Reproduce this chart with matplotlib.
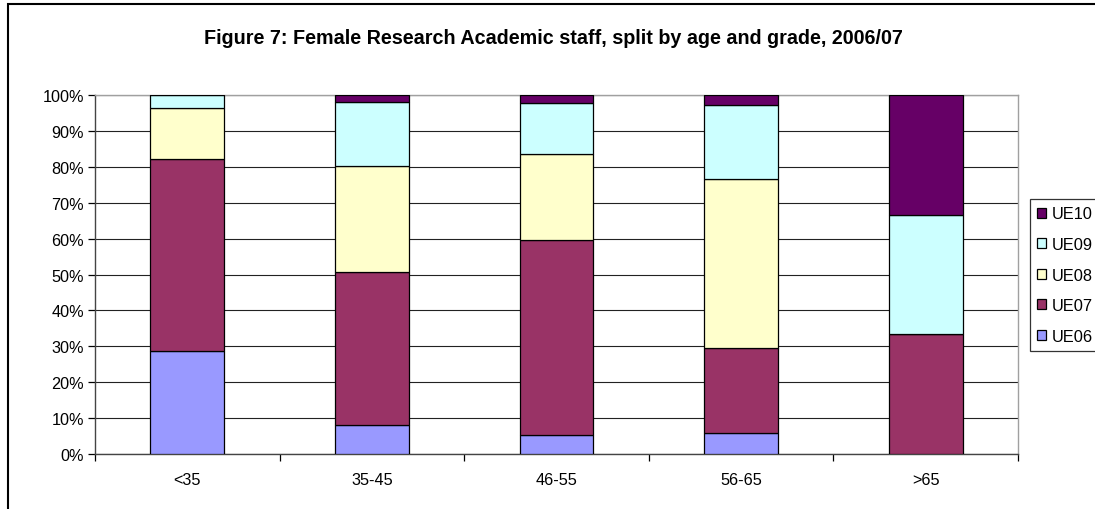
import numpy as np
import matplotlib
matplotlib.use('Agg')
import matplotlib.pyplot as plt
from matplotlib.patches import Rectangle
from matplotlib.ticker import FuncFormatter

plt.rcParams['font.family'] = ['Liberation Sans', 'DejaVu Sans']

ages = ['<35', '35-45', '46-55', '56-65', '>65']
grades = ['UE06', 'UE07', 'UE08', 'UE09', 'UE10']
colors = ['#9999FF', '#993366', '#FFFFCC', '#CCFFFF', '#660066']

# percentage of each age group in each grade
ue06 = [28.6, 8.2, 5.4, 5.9, 0.0]
ue07 = [53.6, 42.4, 54.3, 23.5, 33.3]
ue08 = [14.3, 29.6, 23.8, 47.1, 0.0]
ue09 = [3.5, 17.8, 14.3, 20.6, 33.4]
ue10 = [0.0, 2.0, 2.2, 2.9, 33.3]
series = [ue06, ue07, ue08, ue09, ue10]

fig = plt.figure(figsize=(10.95, 5.10), dpi=100)
ax = fig.add_axes([95/1095, 55/510, 923/1095, 359/510])

x = np.arange(len(ages))
bottom = np.zeros(len(ages))
handles = []
for name, vals, c in zip(grades, series, colors):
    vals = np.array(vals)
    b = ax.bar(x, vals, 0.4, bottom=bottom, color=c, edgecolor='black',
               linewidth=0.9, label=name, zorder=3)
    handles.append(b)
    bottom += vals

ax.set_xlim(-0.5, len(ages) - 0.5)
ax.set_ylim(0, 100)
ax.set_yticks(np.arange(0, 101, 10))
ax.yaxis.set_major_formatter(FuncFormatter(lambda v, p: f'{int(v)}%'))
ax.set_xticks(x)
ax.set_xticklabels(ages)
ax.set_xticks(np.arange(-0.5, len(ages), 1), minor=True)
ax.tick_params(axis='x', which='major', length=0, pad=13, labelsize=11.7)
ax.tick_params(axis='x', which='minor', length=5, width=0.9, direction='out')
ax.tick_params(axis='y', length=5, width=0.9, direction='out', pad=3, labelsize=11.7)
ax.grid(axis='y', color='#222222', linewidth=0.8, zorder=0)
ax.set_axisbelow(True)
for s in ['left', 'bottom']:
    ax.spines[s].set_color('#444444')
    ax.spines[s].set_linewidth(1.0)
for s in ['top', 'right']:
    ax.spines[s].set_color('#a0a0a0')
    ax.spines[s].set_linewidth(1.0)

fig.text(553/1095, 1 - 38/510,
         'Figure 7: Female Research Academic staff, split by age and grade, 2006/07',
         ha='center', va='center', fontsize=14.2, fontweight='bold')

leg = fig.legend(handles[::-1], grades[::-1], loc='upper left',
                 bbox_to_anchor=(1030/1095, 1 - 200/510), frameon=True,
                 fancybox=False, edgecolor='black', fontsize=11.8,
                 handlelength=0.55, handleheight=0.55, handletextpad=0.3,
                 labelspacing=0.95, borderpad=0.45, borderaxespad=0)
leg.get_frame().set_linewidth(0.9)

# outer chart border (left and top edges visible)
fig.add_artist(Rectangle((8/1095, -0.2), 1.2, 1.2 - 5/510, transform=fig.transFigure,
                         fill=False, edgecolor='black', linewidth=1.5))

fig.savefig('out.png', dpi=100)
